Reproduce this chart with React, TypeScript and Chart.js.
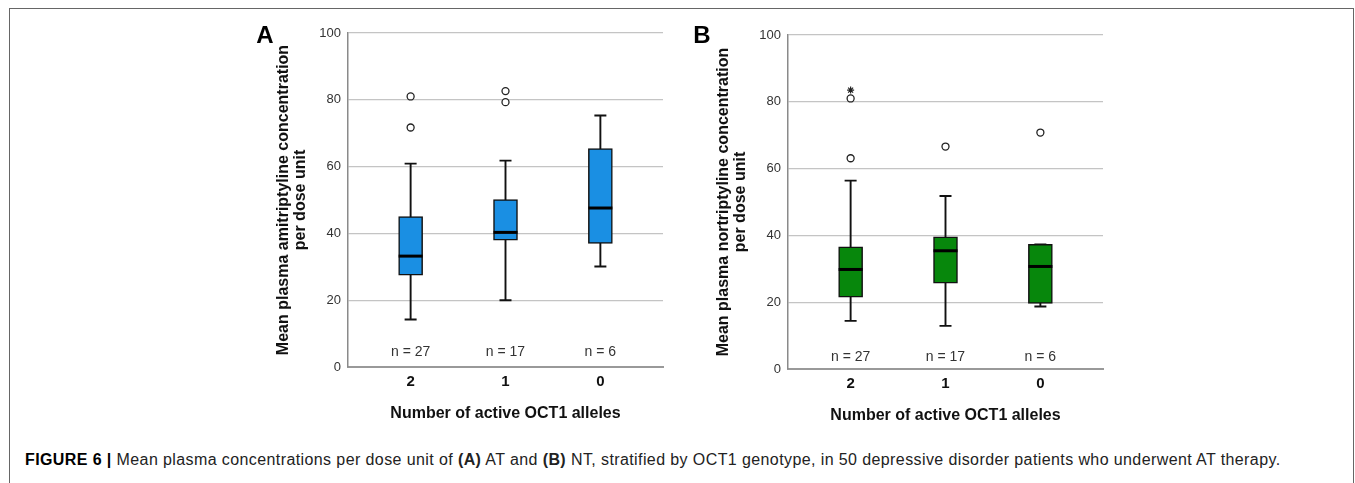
import React, { useEffect, useRef } from 'react';
import { Chart, registerables } from 'chart.js';

Chart.register(...registerables);
Chart.defaults.font.family = '"Liberation Sans", Arial, Helvetica, sans-serif';

// ---- shared axis data ----
const categories = ['2', '1', '0'];
const categoryPositions = [0, 1, 2];
const sampleSizes = ['n = 27', 'n = 17', 'n = 6'];
const yTickValues = [0, 20, 40, 60, 80, 100];
const xAxisTitle = 'Number of active OCT1 alleles';

// ---- Panel A: amitriptyline ----
const atMin = [14.2, 20.0, 30.1];
const atQ1 = [27.5, 38.0, 37.0];
const atMedian = [33.2, 40.3, 47.6];
const atQ3 = [45.0, 50.1, 65.4];
const atMax = [60.9, 61.8, 75.3];
const atOutliers = [[81.0, 71.7], [82.6, 79.3], []];
const atExtremes: number[][] = [[], [], []];

// ---- Panel B: nortriptyline ----
const ntMin = [14.4, 12.9, 18.7];
const ntQ1 = [21.5, 25.7, 19.6];
const ntMedian = [29.8, 35.4, 30.7];
const ntQ3 = [36.6, 39.6, 37.3];
const ntMax = [56.4, 51.8, 37.3];
const ntOutliers = [[81.0, 63.1], [66.6], [70.8]];
const ntExtremes = [[83.5], [], []];

type Panel = {
  letter: string;
  yTitle: string[];
  color: string;
  min: number[];
  q1: number[];
  median: number[];
  q3: number[];
  max: number[];
  outliers: number[][];
  extremes: number[][];
  letterPos: { x: number; y: number };
  nOffset: number;
};

const panelA: Panel = {
  letter: 'A',
  yTitle: ['Mean plasma amitriptyline concentration', 'per dose unit'],
  color: '#1a8fe3',
  min: atMin, q1: atQ1, median: atMedian, q3: atQ3, max: atMax,
  outliers: atOutliers, extremes: atExtremes,
  letterPos: { x: 15, y: 36 },
  nOffset: 15,
};

const panelB: Panel = {
  letter: 'B',
  yTitle: ['Mean plasma nortriptyline concentration', 'per dose unit'],
  color: '#07870c',
  min: ntMin, q1: ntQ1, median: ntMedian, q3: ntQ3, max: ntMax,
  outliers: ntOutliers, extremes: ntExtremes,
  letterPos: { x: 12, y: 34 },
  nOffset: 12,
};

const toPoints = (groups: number[][]) =>
  groups.flatMap((vals, i) => vals.map((v) => ({ x: categoryPositions[i], y: v })));

function makeExtras(p: Panel) {
  return {
    id: 'boxExtras' + p.letter,
    beforeDatasetsDraw(chart: any) {
      const { ctx } = chart;
      const xs = chart.scales.x;
      const ys = chart.scales.y;
      ctx.save();
      ctx.strokeStyle = '#111';
      ctx.lineWidth = 1.9;
      categoryPositions.forEach((c, i) => {
        const px = xs.getPixelForValue(c);
        const yLo = ys.getPixelForValue(p.min[i]);
        const yHi = ys.getPixelForValue(p.max[i]);
        ctx.beginPath();
        ctx.moveTo(px, yLo);
        ctx.lineTo(px, yHi);
        ctx.moveTo(px - 6, yLo);
        ctx.lineTo(px + 6, yLo);
        ctx.moveTo(px - 6, yHi);
        ctx.lineTo(px + 6, yHi);
        ctx.stroke();
      });
      ctx.restore();
    },
    afterDatasetsDraw(chart: any) {
      const { ctx } = chart;
      const xs = chart.scales.x;
      const ys = chart.scales.y;
      ctx.save();
      ctx.strokeStyle = '#000';
      ctx.lineWidth = 3;
      categoryPositions.forEach((c, i) => {
        const px = xs.getPixelForValue(c);
        const py = ys.getPixelForValue(p.median[i]);
        ctx.beginPath();
        ctx.moveTo(px - 12, py);
        ctx.lineTo(px + 12, py);
        ctx.stroke();
      });
      ctx.restore();
    },
    afterDraw(chart: any) {
      const { ctx, chartArea } = chart;
      const xs = chart.scales.x;
      ctx.save();
      ctx.fillStyle = '#333';
      ctx.font = '14px "Liberation Sans", Arial, sans-serif';
      ctx.textAlign = 'center';
      ctx.textBaseline = 'middle';
      categoryPositions.forEach((c, i) => {
        ctx.fillText(sampleSizes[i], xs.getPixelForValue(c), chartArea.bottom - p.nOffset);
      });
      ctx.fillStyle = '#000';
      ctx.font = 'bold 24px "Liberation Sans", Arial, sans-serif';
      ctx.fillText(p.letter, p.letterPos.x, p.letterPos.y);
      ctx.restore();
    },
  };
}

function BoxPanel({ panel, left, top }: { panel: Panel; left: number; top: number }) {
  const ref = useRef<HTMLCanvasElement>(null);
  useEffect(() => {
    const canvas = ref.current;
    if (!canvas) return;
    const chart = new Chart(canvas, {
      type: 'scatter',
      data: {
        datasets: [
          {
            type: 'bar',
            data: categoryPositions.map((x, i) => ({ x, y: [panel.q1[i], panel.q3[i]] })) as any,
            backgroundColor: panel.color,
            borderColor: '#111',
            borderWidth: 1.5,
            borderSkipped: false,
            barThickness: 24,
          } as any,
          {
            type: 'scatter',
            data: toPoints(panel.outliers),
            pointStyle: 'circle',
            pointRadius: 3.5,
            pointBorderWidth: 1.3,
            pointBorderColor: '#222',
            pointBackgroundColor: '#fff',
          } as any,
          {
            type: 'scatter',
            data: toPoints(panel.extremes),
            pointStyle: 'star',
            pointRadius: 3.5,
            pointBorderWidth: 1.2,
            pointBorderColor: '#222',
          } as any,
        ],
      },
      options: {
        responsive: false,
        animation: false,
        devicePixelRatio: 1,
        events: [],
        layout: { padding: { left: 0, right: 17, top: 33, bottom: 13 } },
        plugins: { legend: { display: false }, tooltip: { enabled: false } },
        scales: {
          x: {
            type: 'linear',
            min: -0.66,
            max: 2.66,
            offset: false,
            afterBuildTicks: (s: any) => {
              s.ticks = categoryPositions.map((v) => ({ value: v }));
            },
            afterFit: (s: any) => {
              s.height = 60;
            },
            ticks: {
              callback: (v: any) => {
                const idx = categoryPositions.indexOf(Number(v));
                return idx >= 0 ? categories[idx] : '';
              },
              font: { size: 15, weight: 'bold' },
              color: '#111',
              padding: 6,
              autoSkip: false,
              maxRotation: 0,
            },
            grid: { display: false, drawTicks: false },
            border: { display: true, color: '#999', width: 2 },
            title: {
              display: true,
              text: xAxisTitle,
              font: { size: 16, weight: 'bold' },
              color: '#111',
              padding: { top: 0, bottom: 4 },
            },
          },
          y: {
            type: 'linear',
            min: 0,
            max: 100,
            afterBuildTicks: (s: any) => {
              s.ticks = yTickValues.map((v) => ({ value: v }));
            },
            afterFit: (s: any) => {
              s.width = 98;
            },
            ticks: { font: { size: 13 }, color: '#333', padding: 7 },
            grid: {
              color: (ctx: any) => (ctx.tick && ctx.tick.value === 0 ? 'rgba(0,0,0,0)' : '#c4c4c4'),
              lineWidth: 1.3,
              drawTicks: false,
            },
            border: { display: true, color: '#8a8a8a', width: 1.5 },
            title: {
              display: true,
              text: panel.yTitle,
              font: { size: 16, weight: 'bold', lineHeight: 1.05 },
              color: '#111',
              padding: { top: 25, bottom: 0 },
            },
          },
        },
      } as any,
      plugins: [makeExtras(panel)],
    });
    return () => chart.destroy();
  }, [panel]);
  return (
    <canvas
      ref={ref}
      width={430}
      height={440}
      style={{ position: 'absolute', left, top, width: 430, height: 440 }}
    />
  );
}

export default function App() {
  return (
    <div
      style={{
        position: 'fixed',
        left: 0,
        top: 0,
        width: 1355,
        height: 483,
        overflow: 'hidden',
        background: '#fff',
      }}
    >
      <div
        style={{
          position: 'absolute',
          left: 9,
          top: 8,
          width: 1345,
          height: 600,
          boxSizing: 'border-box',
          border: '1px solid #666',
        }}
      />
      <BoxPanel panel={panelA} left={250} top={0} />
      <BoxPanel panel={panelB} left={690} top={2} />
      <div
        style={{
          position: 'absolute',
          left: 25,
          top: 450,
          font: '16px "Liberation Sans", Arial, sans-serif',
          lineHeight: '19px',
          letterSpacing: '0.4px',
          color: '#222',
          whiteSpace: 'nowrap',
        }}
      >
        <b style={{ color: '#000' }}>FIGURE 6 |</b> Mean plasma concentrations per dose unit of <b>(A)</b> AT and{' '}
        <b>(B)</b> NT, stratified by OCT1 genotype, in 50 depressive disorder patients who underwent AT therapy.
      </div>
    </div>
  );
}
